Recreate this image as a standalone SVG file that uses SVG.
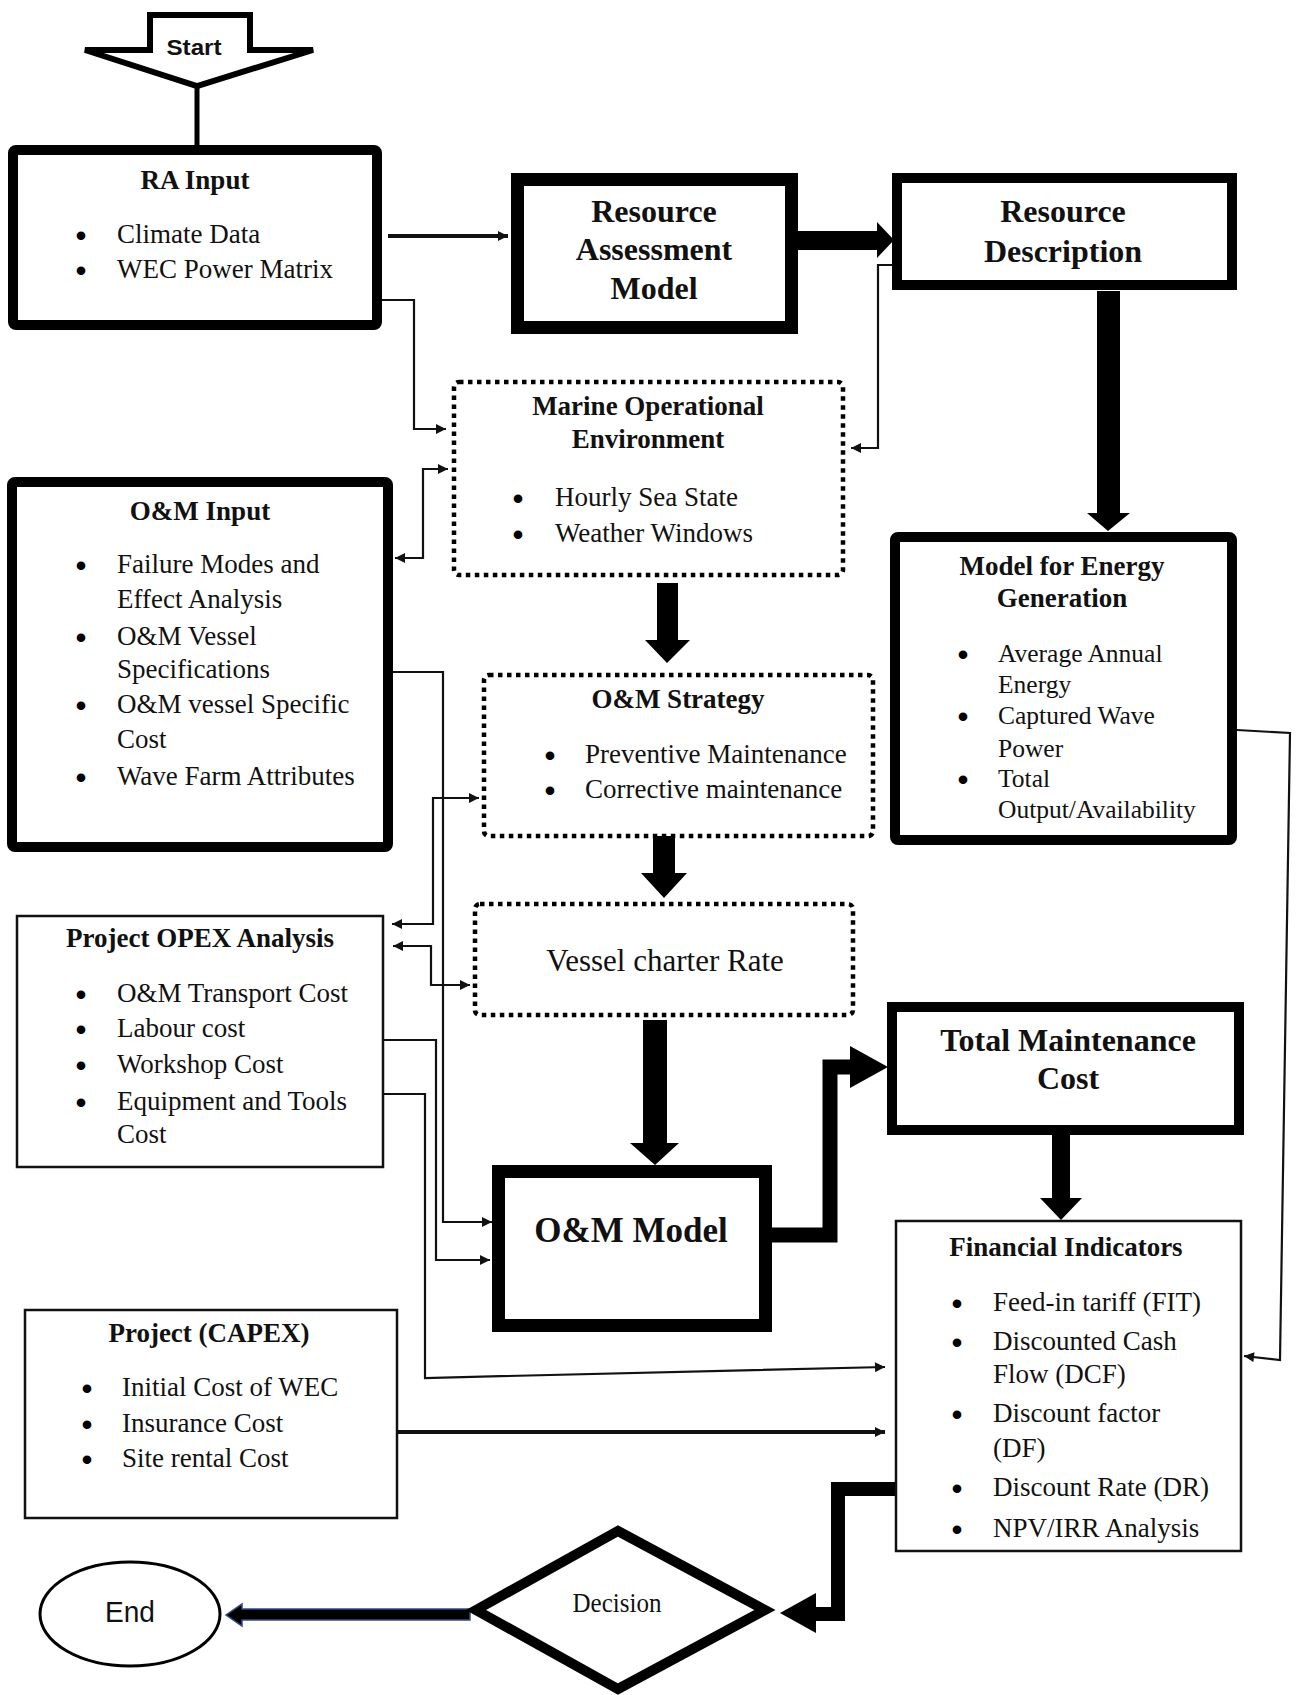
<svg xmlns="http://www.w3.org/2000/svg" width="1297" height="1695" viewBox="0 0 1297 1695">
  <style>
    .thick { fill: #fff; stroke: #000; stroke-width: 10; }
    .heavy { fill: #fff; stroke: #000; stroke-width: 13; }
    .thin { fill: #fff; stroke: #111; stroke-width: 2.5; }
    .dotted { fill: #fff; stroke: #000; stroke-width: 4.5; stroke-dasharray: 4.5 4.5; }
    .title { font-family: "Liberation Serif", "Times New Roman", serif; font-weight: bold; font-size: 27px; fill: #111; text-anchor: middle; }
    .big { font-family: "Liberation Serif", "Times New Roman", serif; font-weight: bold; font-size: 32px; fill: #111; text-anchor: middle; }
    .item { font-family: "Liberation Serif", "Times New Roman", serif; font-size: 27px; fill: #111; }
    .bul { font-family: "Liberation Sans", Arial, sans-serif; font-size: 30px; font-weight: bold; fill: #000; text-anchor: middle; }
    .sans { font-family: "Liberation Sans", Arial, sans-serif; fill: #111; text-anchor: middle; }
    .conn { fill: none; stroke: #111; stroke-width: 2.2; }
    .conn4 { fill: none; stroke: #111; stroke-width: 4; }
    .solid { fill: #000; stroke: none; }
  </style>
  <defs>
    <marker id="ah" viewBox="0 0 10 10" refX="10" refY="5" markerWidth="11" markerHeight="10" markerUnits="userSpaceOnUse" orient="auto-start-reverse">
      <path d="M0,0 L10,5 L0,10 z" fill="#111"/>
    </marker>
  </defs>
  <rect width="1297" height="1695" fill="#fff"/>

  <!-- connectors -->
  <g id="connectors">
    <line x1="197" y1="86" x2="197" y2="147" stroke="#000" stroke-width="5"/>
    <path class="conn4" d="M388,236 L508,236" marker-end="url(#ah)"/>
    <!-- thick RAM -> Resource Description -->
    <polygon class="solid" points="797,231 877,231 877,222 894,240 877,258 877,250 797,250"/>
    <path class="conn" d="M907,265 L878,265 L878,448 L851,448" marker-end="url(#ah)"/>
    <!-- thick Resource Description -> Energy model -->
    <polygon class="solid" points="1097,291 1120,291 1120,513 1130,513 1108,531 1087,513 1097,513"/>
    <path class="conn" d="M382,300 L414,300 L414,429 L446,429" marker-end="url(#ah)"/>
    <path class="conn" d="M395,558 L423,558 L423,469 L448,469" marker-start="url(#ah)" marker-end="url(#ah)"/>
    <!-- thick Marine -> Strategy -->
    <polygon class="solid" points="657,583 678,583 678,640 690,640 667,663 645,640 657,640"/>
    <path class="conn" d="M393,672 L443,672 L443,1222 L492,1222" marker-end="url(#ah)"/>
    <path class="conn" d="M392,924 L433,924 L433,798 L479,798" marker-start="url(#ah)" marker-end="url(#ah)"/>
    <path class="conn" d="M393,946 L431,946 L431,985 L470,985" marker-start="url(#ah)" marker-end="url(#ah)"/>
    <!-- thick Strategy -> Vessel charter -->
    <polygon class="solid" points="653,836 675,836 675,873 687,873 664,898 641,873 653,873"/>
    <!-- thick Vessel charter -> O&M Model -->
    <polygon class="solid" points="643,1020 667,1020 667,1143 679,1143 655,1165 630,1143 643,1143"/>
    <path class="conn" d="M384,1040 L436,1040 L436,1260 L490,1260" marker-end="url(#ah)"/>
    <path class="conn" d="M384,1094 L425,1094 L425,1378 L885,1367" marker-end="url(#ah)"/>
    <!-- thick O&M Model -> Total Maintenance Cost -->
    <path d="M771,1235 L830,1235 L830,1067 L853,1067" fill="none" stroke="#000" stroke-width="15"/>
    <polygon class="solid" points="850,1046 888,1067 850,1088"/>
    <!-- thick Total Maintenance Cost -> Financial -->
    <polygon class="solid" points="1052,1134 1070,1134 1070,1198 1082,1198 1061,1220 1040,1198 1052,1198"/>
    <path class="conn" d="M1237,730 L1290,733 L1280,1360 L1244,1356" marker-end="url(#ah)"/>
    <path class="conn4" d="M398,1432 L885,1432" marker-end="url(#ah)"/>
    <!-- thick Financial -> Decision -->
    <path d="M896,1489 L838,1489 L838,1614 L814,1614" fill="none" stroke="#000" stroke-width="14"/>
    <polygon class="solid" points="816,1593 780,1613 816,1633"/>
    <!-- Decision -> End -->
    <polygon points="470,1609 242,1609 242,1604 226,1615 242,1626 242,1620 470,1620" fill="#000" stroke="#2f4f80" stroke-width="1.5"/>
  </g>

  <g id="start">
    <path d="M150,15 L250,15 L250,50 L313,50 L197,86 L85,50 L150,50 Z" fill="#fff" stroke="#000" stroke-width="6" stroke-linejoin="miter"/>
    <text class="sans" x="194" y="55" font-size="22" font-weight="bold" textLength="55" lengthAdjust="spacingAndGlyphs">Start</text>
  </g>

  <g id="ra-input">
    <rect class="thick" x="13" y="150" width="364" height="175" rx="3"/>
    <text class="title" x="195" y="189">RA Input</text>
    <text class="bul" x="81" y="246">•</text><text class="item" x="117" y="243">Climate Data</text>
    <text class="bul" x="81" y="281">•</text><text class="item" x="117" y="278">WEC Power Matrix</text>
  </g>

  <g id="resource-assessment-model">
    <rect class="heavy" x="517.5" y="179.5" width="274" height="148"/>
    <text class="big" x="654" y="222">Resource</text>
    <text class="big" x="654" y="260">Assessment</text>
    <text class="big" x="654" y="299">Model</text>
  </g>

  <g id="resource-description">
    <rect class="thick" x="897" y="178" width="335" height="107"/>
    <text class="big" x="1063" y="222">Resource</text>
    <text class="big" x="1063" y="262">Description</text>
  </g>

  <g id="marine-operational-environment">
    <rect class="dotted" x="454" y="382" width="389" height="193" rx="5"/>
    <text class="title" x="648" y="415">Marine Operational</text>
    <text class="title" x="648" y="448">Environment</text>
    <text class="bul" x="518" y="509">•</text><text class="item" x="555" y="506">Hourly Sea State</text>
    <text class="bul" x="518" y="545">•</text><text class="item" x="555" y="542">Weather Windows</text>
  </g>

  <g id="om-input">
    <rect class="thick" x="12" y="482" width="376" height="365" rx="3"/>
    <text class="title" x="200" y="520">O&amp;M Input</text>
    <text class="bul" x="81" y="576">•</text><text class="item" x="117" y="573">Failure Modes and</text>
    <text class="item" x="117" y="608">Effect Analysis</text>
    <text class="bul" x="81" y="648">•</text><text class="item" x="117" y="645">O&amp;M Vessel</text>
    <text class="item" x="117" y="678">Specifications</text>
    <text class="bul" x="81" y="716">•</text><text class="item" x="117" y="713">O&amp;M vessel Specific</text>
    <text class="item" x="117" y="748">Cost</text>
    <text class="bul" x="81" y="788">•</text><text class="item" x="117" y="785">Wave Farm Attributes</text>
  </g>

  <g id="energy-generation-model">
    <rect class="thick" x="895" y="537" width="337" height="303" rx="3"/>
    <text class="title" x="1062" y="575">Model for Energy</text>
    <text class="title" x="1062" y="607">Generation</text>
    <text class="bul" x="963" y="665">•</text><text class="item" x="998" y="662" style="font-size:25.5px">Average Annual</text>
    <text class="item" x="998" y="693" style="font-size:25.5px">Energy</text>
    <text class="bul" x="963" y="727">•</text><text class="item" x="998" y="724" style="font-size:25.5px">Captured Wave</text>
    <text class="item" x="998" y="757" style="font-size:25.5px">Power</text>
    <text class="bul" x="963" y="790">•</text><text class="item" x="998" y="787" style="font-size:25.5px">Total</text>
    <text class="item" x="998" y="818" style="font-size:25.5px">Output/Availability</text>
  </g>

  <g id="om-strategy">
    <rect class="dotted" x="484" y="675" width="389" height="161" rx="5"/>
    <text class="title" x="678" y="708">O&amp;M Strategy</text>
    <text class="bul" x="550" y="766">•</text><text class="item" x="585" y="763">Preventive Maintenance</text>
    <text class="bul" x="550" y="801">•</text><text class="item" x="585" y="798">Corrective maintenance</text>
  </g>

  <g id="project-opex">
    <rect class="thin" x="17" y="916" width="366" height="251"/>
    <text class="title" x="200" y="947">Project OPEX Analysis</text>
    <text class="bul" x="81" y="1005">•</text><text class="item" x="117" y="1002">O&amp;M Transport Cost</text>
    <text class="bul" x="81" y="1040">•</text><text class="item" x="117" y="1037">Labour cost</text>
    <text class="bul" x="81" y="1076">•</text><text class="item" x="117" y="1073">Workshop Cost</text>
    <text class="bul" x="81" y="1113">•</text><text class="item" x="117" y="1110">Equipment and Tools</text>
    <text class="item" x="117" y="1143">Cost</text>
  </g>

  <g id="vessel-charter-rate">
    <rect class="dotted" x="475" y="904" width="378" height="111" rx="5"/>
    <text class="item" x="665" y="971" text-anchor="middle" style="font-size:31px">Vessel charter Rate</text>
  </g>

  <g id="om-model">
    <rect class="heavy" x="498.5" y="1171.5" width="267" height="154"/>
    <text class="title" x="631" y="1242" style="font-size:35px">O&amp;M Model</text>
  </g>

  <g id="total-maintenance-cost">
    <rect class="thick" x="892" y="1007" width="347" height="123"/>
    <text class="big" x="1068" y="1051">Total Maintenance</text>
    <text class="big" x="1068" y="1089">Cost</text>
  </g>

  <g id="financial-indicators">
    <rect class="thin" x="896" y="1221" width="345" height="330"/>
    <text class="title" x="1066" y="1256">Financial Indicators</text>
    <text class="bul" x="957" y="1314">•</text><text class="item" x="993" y="1311">Feed-in tariff (FIT)</text>
    <text class="bul" x="957" y="1353">•</text><text class="item" x="993" y="1350">Discounted Cash</text>
    <text class="item" x="993" y="1383">Flow (DCF)</text>
    <text class="bul" x="957" y="1425">•</text><text class="item" x="993" y="1422">Discount factor</text>
    <text class="item" x="993" y="1457">(DF)</text>
    <text class="bul" x="957" y="1499">•</text><text class="item" x="993" y="1496">Discount Rate (DR)</text>
    <text class="bul" x="957" y="1540">•</text><text class="item" x="993" y="1537">NPV/IRR Analysis</text>
  </g>

  <g id="project-capex">
    <rect class="thin" x="25" y="1310" width="372" height="208"/>
    <text class="title" x="209" y="1342">Project (CAPEX)</text>
    <text class="bul" x="87" y="1399">•</text><text class="item" x="122" y="1396">Initial Cost of WEC</text>
    <text class="bul" x="87" y="1435">•</text><text class="item" x="122" y="1432">Insurance Cost</text>
    <text class="bul" x="87" y="1470">•</text><text class="item" x="122" y="1467">Site rental Cost</text>
  </g>

  <g id="decision">
    <polygon points="476,1610 618,1531 765,1610 618,1689" fill="#fff" stroke="#000" stroke-width="10" stroke-linejoin="miter"/>
    <text class="item" x="617" y="1612" text-anchor="middle" textLength="89" lengthAdjust="spacingAndGlyphs">Decision</text>
  </g>

  <g id="end">
    <ellipse cx="130" cy="1614" rx="90" ry="52" fill="#fff" stroke="#000" stroke-width="3"/>
    <text class="sans" x="130" y="1622" font-size="30" textLength="50" lengthAdjust="spacingAndGlyphs">End</text>
  </g>
</svg>
